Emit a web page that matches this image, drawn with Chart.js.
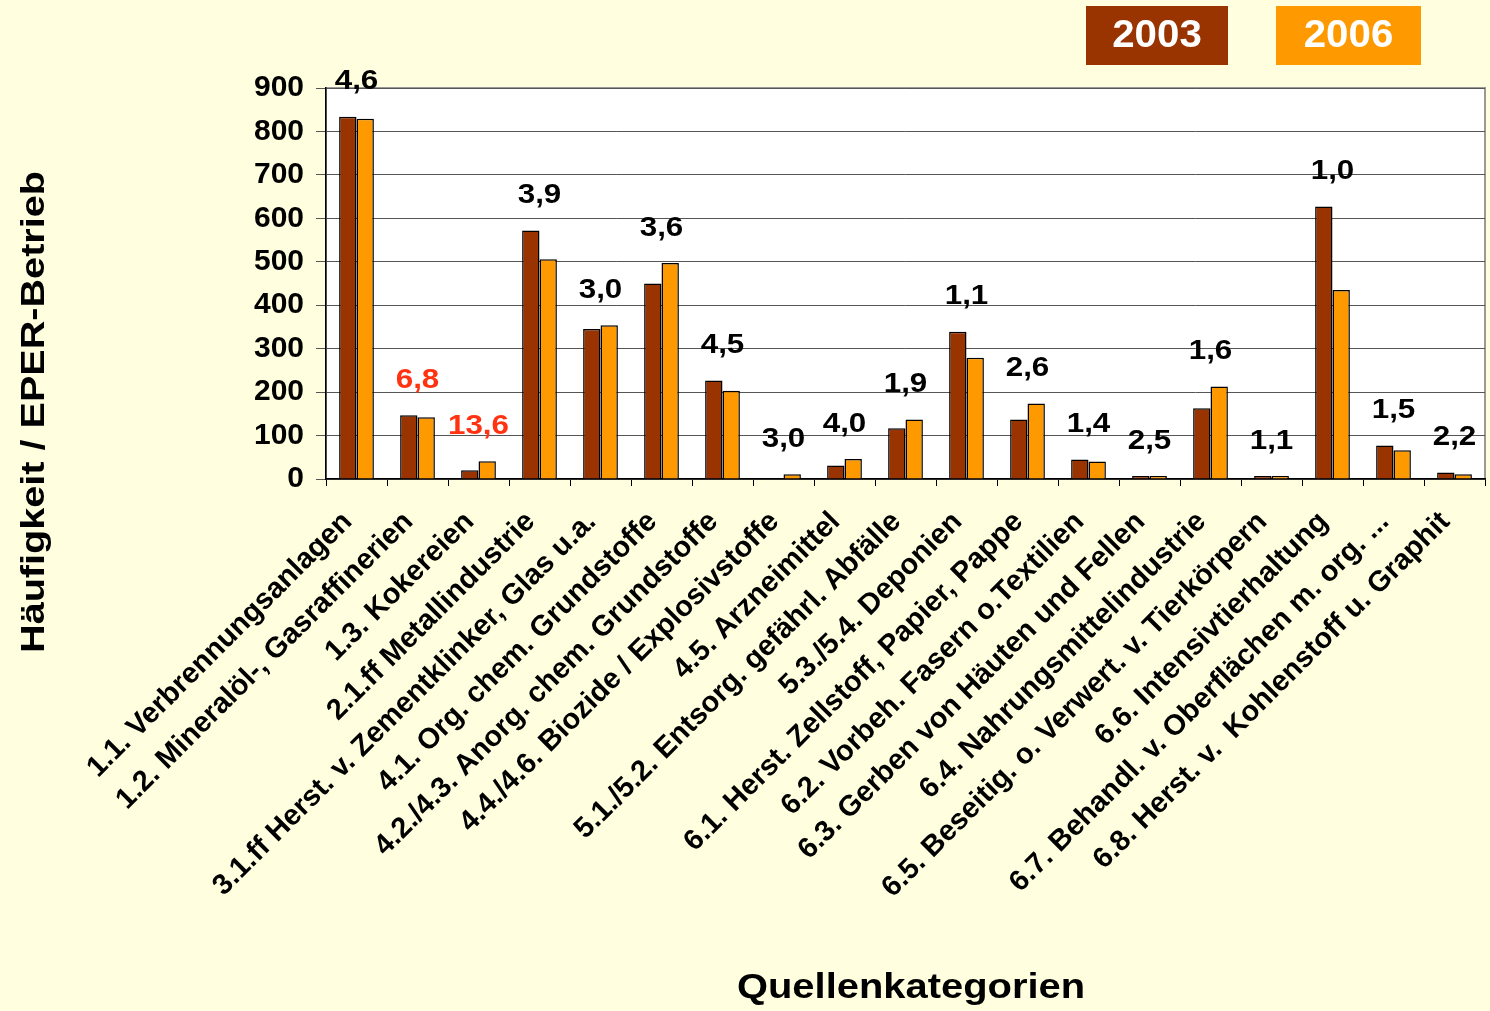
<!DOCTYPE html>
<html>
<head>
<meta charset="utf-8">
<script src="https://cdn.jsdelivr.net/npm/chart.js@4.4.1/dist/chart.umd.min.js"></script>
<style>
  html, body { margin: 0; padding: 0; background: #FFFFE0; }
  #wrap { width: 1490px; height: 1011px; position: relative; }
</style>
</head>
<body>
<div id="wrap"><canvas id="chart"></canvas></div>
<script>
// Quellenkategorien
const categories = [
  "1.1. Verbrennungsanlagen",
  "1.2. Mineralöl-, Gasraffinerien",
  "1.3. Kokereien",
  "2.1.ff Metallindustrie",
  "3.1.ff Herst. v. Zementklinker, Glas u.a.",
  "4.1. Org. chem. Grundstoffe",
  "4.2./4.3. Anorg. chem. Grundstoffe",
  "4.4./4.6. Biozide / Explosivstoffe",
  "4.5. Arzneimittel",
  "5.1./5.2. Entsorg. gefährl. Abfälle",
  "5.3./5.4. Deponien",
  "6.1. Herst. Zellstoff, Papier, Pappe",
  "6.2. Vorbeh. Fasern o.Textilien",
  "6.3. Gerben von Häuten und Fellen",
  "6.4. Nahrungsmittelindustrie",
  "6.5. Beseitig. o. Verwert. v. Tierkörpern",
  "6.6. Intensivtierhaltung",
  "6.7. Behandl. v. Oberflächen m. org. ...",
  "6.8. Herst. v.  Kohlenstoff u. Graphit"
];

const values2003 = [834, 147, 20, 572, 345, 450, 227, 0, 31, 117, 339, 137, 45, 7, 163, 7, 627, 77, 15];
const values2006 = [829, 142, 41, 506, 354, 497, 203, 11, 46, 137, 279, 174, 40, 7, 213, 7, 435, 66, 11];

// Werte über den Balkengruppen
const groupLabels = ["4,6", "6,8", "13,6", "3,9", "3,0", "3,6", "4,5", "3,0", "4,0", "1,9",
                     "1,1", "2,6", "1,4", "2,5", "1,6", "1,1", "1,0", "1,5", "2,2"];
const redLabels = [1, 2];

const yTicks = [0, 100, 200, 300, 400, 500, 600, 700, 800, 900];

const FONT = "'Liberation Sans', Arial, sans-serif";
const COL_2003 = "#993300";
const COL_2006 = "#FF9900";

// Text etwas in die Breite gezogen, wie im Original
function wideText(ctx, txt, x, y, angle, sx) {
  ctx.save();
  ctx.translate(x, y);
  ctx.rotate(angle);
  ctx.scale(sx, 1);
  ctx.fillText(txt, 0, 0);
  ctx.restore();
}

// weißer Plotbereich mit grauem Rahmen
const plotBackground = {
  id: "plotBackground",
  beforeDraw(chart) {
    const { ctx, chartArea: a } = chart;
    ctx.save();
    ctx.fillStyle = "#FFFFFF";
    ctx.fillRect(a.left, a.top, a.right - a.left, a.bottom - a.top);
    ctx.strokeStyle = "#999999";
    ctx.lineWidth = 2;
    ctx.strokeRect(a.left, a.top, a.right - a.left, a.bottom - a.top);
    ctx.restore();
  }
};

// Beschriftungen, Legende, Achsentitel
const extras = {
  id: "extras",
  afterDraw(chart) {
    const ctx = chart.ctx;
    const m0 = chart.getDatasetMeta(0);
    const m1 = chart.getDatasetMeta(1);
    ctx.save();
    ctx.font = "bold 28px " + FONT;
    ctx.textAlign = "center";
    ctx.textBaseline = "middle";
    groupLabels.forEach((txt, i) => {
      const b0 = m0.data[i], b1 = m1.data[i];
      const x = (b0.x + b1.x) / 2;
      const top = Math.min(b0.y, b1.y);
      ctx.fillStyle = redLabels.includes(i) ? "#FF3311" : "#000000";
      wideText(ctx, txt, x, top - 35, 0, 1.12);
    });

    // Legende
    const boxes = [
      { x: 1086, w: 142, color: COL_2003, text: "2003" },
      { x: 1276, w: 145, color: COL_2006, text: "2006" }
    ];
    ctx.font = "bold 38px " + FONT;
    boxes.forEach(b => {
      ctx.fillStyle = b.color;
      ctx.fillRect(b.x, 6, b.w, 59);
      ctx.fillStyle = "#FFFFFF";
      wideText(ctx, b.text, b.x + b.w / 2, 37, 0, 1.06);
    });

    // Achsentitel
    ctx.fillStyle = "#000000";
    ctx.font = "bold 33px " + FONT;
    wideText(ctx, "Häufigkeit / EPER-Betrieb", 35, 412, -Math.PI / 2, 1.2);
    ctx.font = "bold 35px " + FONT;
    wideText(ctx, "Quellenkategorien", 911, 988, 0, 1.14);
    ctx.restore();
  }
};

new Chart(document.getElementById("chart"), {
  type: "bar",
  data: {
    labels: categories,
    datasets: [
      {
        label: "2003",
        data: values2003,
        backgroundColor: COL_2003,
        borderColor: "#000000",
        borderWidth: 1.5
      },
      {
        label: "2006",
        data: values2006,
        backgroundColor: COL_2006,
        borderColor: "#000000",
        borderWidth: 1.5
      }
    ]
  },
  options: {
    responsive: true,
    maintainAspectRatio: false,
    animation: false,
    layout: { padding: { top: 88, right: 5, left: 0, bottom: 0 } },
    datasets: { bar: { barPercentage: 1, categoryPercentage: 0.57 } },
    plugins: {
      legend: { display: false },
      tooltip: { enabled: false }
    },
    scales: {
      x: {
        offset: true,
        afterFit(scale) {
          scale.height = 532;
          scale.paddingRight = 0;
          scale.paddingLeft = 0;
        },
        grid: { offset: true, drawOnChartArea: false, tickLength: 7, color: "#000000" },
        border: { color: "#000000", width: 1.5 },
        ticks: {
          autoSkip: false,
          maxRotation: 45,
          minRotation: 45,
          padding: 19,
          labelOffset: -9,
          color: "#000000",
          font: { family: FONT, size: 29, weight: "bold" }
        }
      },
      y: {
        min: 0,
        max: 900,
        afterFit(scale) { scale.width = 326; },
        afterBuildTicks(scale) { scale.ticks = yTicks.map(v => ({ value: v })); },
        grid: { color: "#555555", lineWidth: 1, tickLength: 10 },
        border: { color: "#000000", width: 1.5 },
        ticks: {
          padding: 12,
          color: "#000000",
          font: { family: FONT, size: 30, weight: "bold" }
        }
      }
    }
  },
  plugins: [plotBackground, extras]
});
</script>
</body>
</html>
